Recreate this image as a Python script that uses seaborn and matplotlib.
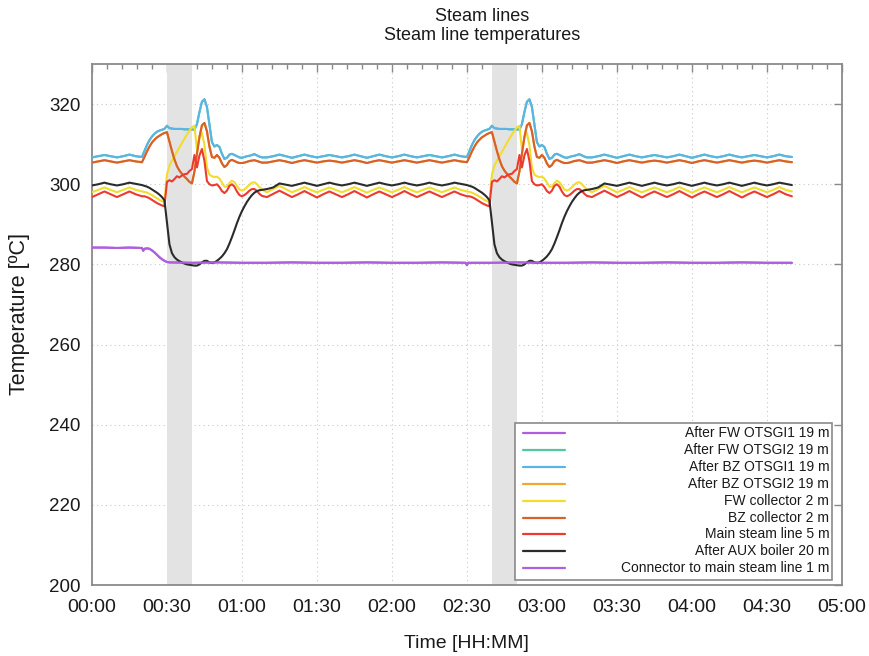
import numpy as np
import pandas as pd
import matplotlib
matplotlib.use("Agg")
import matplotlib.pyplot as plt
from matplotlib.ticker import MultipleLocator, FuncFormatter
from matplotlib.lines import Line2D
from matplotlib.patches import Rectangle
import seaborn as sns

# ---------------------------------------------------------------
# One pulse cycle of the steam-line temperatures [degC]
# time axis in minutes; the plant repeats this cycle every 130 min
# ---------------------------------------------------------------
t_pre = [0, 2.5, 5, 7.5, 10, 12.5, 15, 17.5, 20]
t_transient = list(range(21, 69))
t_dwell = [70 + 2.5 * i for i in range(33)]
t_cycle = t_pre + t_transient + t_dwell

cycle_period = 130
t_end = 280
pulse_start = [30, 160]
pulse_end = [40, 170]

after_bz_otsg1 = (
    [306.7, 307.0, 307.3, 307.0, 306.7, 307.0, 307.4, 307.0, 306.8]
    + [308.3, 309.8, 311.0, 311.9, 312.6, 313.1, 313.4, 313.6, 313.8, 314.6,
       314.0, 313.9, 313.8, 313.8, 313.8, 313.8, 313.7, 313.7, 313.7, 313.7,
       313.6, 315.0, 318.0, 320.6, 321.2, 319.3, 314.8, 310.5, 309.4, 309.8,
       309.3, 307.6, 306.3, 306.6, 307.4, 307.6, 307.3, 307.0, 306.7, 306.6,
       306.8, 307.0, 307.1, 307.3, 307.5, 307.2, 306.9, 306.7]
    + [306.7, 307.0, 307.4, 307.0, 306.6, 307.0, 307.4, 307.0, 306.7, 307.0,
       307.3, 307.0, 306.7, 307.0, 307.4, 307.0, 306.6, 307.0, 307.4, 307.0,
       306.7, 307.0, 307.4, 307.0, 306.7, 307.0, 307.3, 307.0, 306.7, 307.0,
       307.4, 307.0, 306.8]
)

bz_collector = (
    [305.4, 305.7, 306.0, 305.7, 305.4, 305.7, 306.0, 305.7, 305.5]
    + [306.8, 308.2, 309.4, 310.4, 311.1, 311.7, 312.1, 312.5, 312.8, 313.0,
       310.6, 308.3, 306.2, 304.5, 303.4, 302.6, 301.9, 301.3, 300.6, 300.2,
       303.2, 307.6, 311.8, 314.7, 315.3, 313.2, 309.4, 306.8, 306.6, 307.3,
       306.6, 305.2, 304.3, 304.8, 305.8, 306.1, 305.8, 305.5, 305.3, 305.3,
       305.4, 305.6, 305.8, 305.9, 306.0, 305.8, 305.6, 305.4]
    + [305.4, 305.7, 306.0, 305.7, 305.3, 305.7, 306.0, 305.7, 305.4, 305.7,
       305.9, 305.7, 305.4, 305.7, 306.0, 305.7, 305.3, 305.7, 306.0, 305.7,
       305.4, 305.7, 306.0, 305.7, 305.4, 305.7, 305.9, 305.7, 305.4, 305.7,
       306.0, 305.7, 305.5]
)

fw_collector = (
    [298.0, 298.6, 299.2, 298.6, 298.0, 298.6, 299.2, 298.6, 298.2]
    + [298.1, 297.9, 297.6, 297.3, 296.9, 296.5, 296.1, 295.8, 295.6, 302.5,
       304.6, 305.9, 307.0, 308.1, 309.2, 310.3, 311.4, 312.4, 313.4, 314.2,
       314.6, 308.6, 311.6, 312.8, 309.8, 304.2, 302.4, 302.0, 301.8, 301.9,
       301.4, 300.4, 299.4, 299.4, 300.3, 300.9, 300.5, 299.6, 298.7, 298.4,
       298.7, 299.3, 299.9, 300.4, 300.5, 300.0, 299.3, 298.7]
    + [298.0, 298.8, 299.6, 298.8, 298.0, 298.6, 299.3, 298.6, 298.0, 298.6,
       299.2, 298.6, 298.0, 298.6, 299.3, 298.6, 297.9, 298.6, 299.2, 298.6,
       298.0, 298.6, 299.3, 298.6, 298.0, 298.6, 299.2, 298.6, 298.0, 298.6,
       299.3, 298.6, 298.2]
)

main_steam_line = (
    [296.8, 297.5, 298.2, 297.5, 296.8, 297.5, 298.2, 297.5, 297.0]
    + [297.0, 296.8, 296.5, 296.1, 295.7, 295.3, 295.0, 294.7, 294.5, 300.6,
       301.0, 300.7, 301.3, 302.0, 301.7, 302.2, 302.5, 302.6, 303.3, 303.8,
       307.3, 304.2, 307.2, 308.8, 305.8, 300.8, 300.0, 299.7, 299.8, 300.0,
       299.3, 298.3, 297.8, 298.4, 299.6, 300.0, 299.4, 298.2, 297.3, 297.0,
       297.3, 297.8, 298.4, 298.8, 298.8, 298.3, 297.6, 297.1]
    + [296.8, 297.6, 298.4, 297.6, 296.8, 297.5, 298.3, 297.5, 296.7, 297.5,
       298.2, 297.5, 296.8, 297.5, 298.3, 297.5, 296.7, 297.5, 298.2, 297.5,
       296.8, 297.5, 298.3, 297.5, 296.7, 297.5, 298.2, 297.5, 296.8, 297.5,
       298.3, 297.5, 297.0]
)

after_aux_boiler = (
    [299.7, 300.0, 300.4, 300.0, 299.7, 300.0, 300.4, 300.1, 299.8]
    + [299.6, 299.4, 299.1, 298.7, 298.3, 297.9, 297.4, 296.8, 296.0, 290.5,
       285.0, 282.8, 281.8, 281.2, 280.8, 280.5, 280.2, 280.0, 279.9, 279.8,
       279.7, 279.7, 280.0, 280.5, 280.9, 280.9, 280.5, 280.4, 280.5, 280.9,
       281.4, 282.0, 282.8, 283.8, 285.2, 286.8, 288.5, 290.3, 291.9, 293.3,
       294.5, 295.6, 296.5, 297.3, 297.9, 298.3, 298.5, 298.6]
    + [298.8, 299.2, 300.2, 299.9, 299.6, 300.0, 300.4, 300.0, 299.6, 300.0,
       300.4, 300.0, 299.7, 300.0, 300.4, 300.0, 299.6, 300.0, 300.4, 300.0,
       299.7, 300.0, 300.4, 300.0, 299.6, 300.0, 300.4, 300.0, 299.7, 300.0,
       300.4, 300.1, 299.8]
)

# Connector line: settles once after the first pulse, not cyclic
t_connector = ([0, 5, 10, 15, 20]
               + [20.5, 21, 22, 23, 24, 25, 26, 27, 28, 29, 30, 31]
               + [40, 50, 60, 70, 80, 90, 100, 110, 120, 130, 140]
               + [149.5, 150, 150.5]
               + [160, 170, 180, 190, 200, 210, 220, 230, 240, 250, 260, 270, 280])
connector_main_line = (
    [284.2, 284.2, 284.1, 284.2, 284.1]
    + [283.4, 283.9, 284.0, 283.9, 283.5, 283.0, 282.4, 281.8, 281.3, 280.9,
       280.6, 280.5]
    + [280.4, 280.5, 280.4, 280.4, 280.5, 280.4, 280.4, 280.5, 280.4, 280.4,
       280.5]
    + [280.4, 279.8, 280.4]
    + [280.4, 280.5, 280.4, 280.4, 280.5, 280.4, 280.4, 280.5, 280.4, 280.4,
       280.5, 280.4, 280.4]
)

# Lines whose readings coincide with another line of the same steam path
after_fw_otsg1 = connector_main_line
after_fw_otsg2 = after_bz_otsg1
after_bz_otsg2 = bz_collector

labels = [
    "After FW OTSGI1 19 m",
    "After FW OTSGI2 19 m",
    "After BZ OTSGI1 19 m",
    "After BZ OTSGI2 19 m",
    "FW collector 2 m",
    "BZ collector 2 m",
    "Main steam line 5 m",
    "After AUX boiler 20 m",
    "Connector to main steam line 1 m",
]
series = [after_fw_otsg1, after_fw_otsg2, after_bz_otsg1, after_bz_otsg2,
          fw_collector, bz_collector, main_steam_line, after_aux_boiler,
          connector_main_line]
cyclic = [False, True, True, True, True, True, True, True, False]
colors = ["#b05ee0", "#55c6a0", "#5ab4e6", "#f0a830", "#f2dc2e",
          "#d8602a", "#ee3a2e", "#2b2b2b", "#b05ee0"]

# Long-form table: cyclic lines are the first cycle followed by its repeat
rows = []
tc = np.asarray(t_cycle, dtype=float)
for lab, vals, cyc in zip(labels, series, cyclic):
    v = np.asarray(vals, dtype=float)
    if cyc:
        first = tc < cycle_period
        second = tc + cycle_period <= t_end
        tt = np.concatenate([tc[first], tc[second] + cycle_period])
        vv = np.concatenate([v[first], v[second]])
    else:
        tt = np.asarray(t_connector, dtype=float)
        vv = v
    rows.append(pd.DataFrame({"time": tt, "temp": vv, "line": lab}))
df = pd.concat(rows, ignore_index=True)

sns.set_theme(style="white")
plt.rcParams["font.family"] = ["Liberation Sans", "DejaVu Sans"]

fig = plt.figure(figsize=(8.7, 6.56), dpi=100)
ax = fig.add_axes([0.1057, 0.1082, 0.862, 0.7942])

for s, e in zip(pulse_start, pulse_end):
    ax.axvspan(s, e, color="#e3e3e3", lw=0, zorder=1)

sns.lineplot(data=df, x="time", y="temp", hue="line", hue_order=labels,
             palette=dict(zip(labels, colors)), estimator=None, sort=False,
             legend=False, linewidth=1.5, ax=ax, zorder=3)

ax.set_xlim(0, 300)
ax.set_ylim(200, 330)
ax.xaxis.set_major_locator(MultipleLocator(30))
ax.xaxis.set_minor_locator(MultipleLocator(6))
ax.xaxis.set_major_formatter(
    FuncFormatter(lambda m, _: f"{int(m) // 60:02d}:{int(m) % 60:02d}"))
ax.set_yticks(range(200, 321, 20))

ax.grid(True, which="major", linestyle=(0, (1, 3)), color="#c8c8c8", lw=0.8, zorder=0)
for sp in ax.spines.values():
    sp.set_color("#8a8a8a")
    sp.set_linewidth(1.3)
ax.tick_params(which="both", direction="in", top=True, right=True,
               color="#8a8a8a", width=1.0)
ax.tick_params(which="major", length=6, labelcolor="#1a1a1a")
ax.tick_params(which="minor", length=3.5)
ax.tick_params(axis="x", which="major", pad=10, labelsize=14)
ax.tick_params(axis="y", which="major", pad=8, labelsize=13.5)

ax.set_xlabel("Time [HH:MM]", fontsize=14, color="#1a1a1a", labelpad=14)
ax.set_ylabel("Temperature [ºC]", fontsize=15.5, color="#1a1a1a")
ax.yaxis.set_label_coords(-0.082, 0.52)

fig.text(0.554, 0.975, "Steam lines", ha="center", va="center",
         fontsize=13, color="#1a1a1a")
fig.text(0.554, 0.946, "Steam line temperatures", ha="center", va="center",
         fontsize=13, color="#1a1a1a")

# Key: handles on the left, labels right-aligned
box = Rectangle((0.564, 0.0096), 0.423, 0.302, transform=ax.transAxes,
                facecolor="white", edgecolor="#8a8a8a", lw=1.2, zorder=5)
ax.add_patch(box)
row_y0, row_dy = 0.292, 0.0325
for i, (lab, c) in enumerate(zip(labels, colors)):
    y = row_y0 - i * row_dy
    ax.add_line(Line2D([0.575, 0.631], [y, y], transform=ax.transAxes,
                       color=c, lw=1.6, zorder=6))
    ax.text(0.983, y, lab, transform=ax.transAxes, ha="right", va="center",
            fontsize=10, color="#1a1a1a", zorder=6)

fig.savefig("out.png", dpi=100)
